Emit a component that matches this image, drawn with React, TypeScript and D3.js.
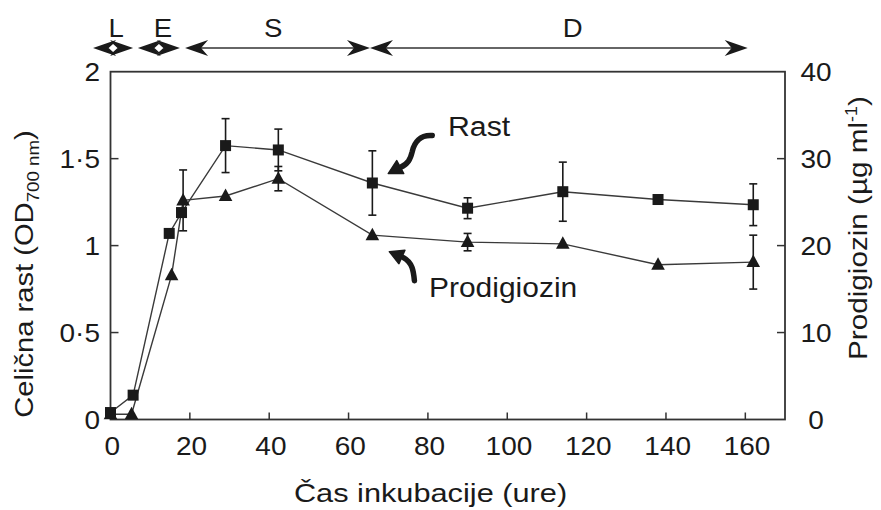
import React from "react";
import * as d3 from "d3";

// ---- data ----
const rastTime = [0, 5.7, 14.8, 17.9, 29, 42.3, 66, 90, 114, 138, 162];
const rastOD = [0.04, 0.14, 1.07, 1.19, 1.575, 1.55, 1.36, 1.215, 1.31, 1.265, 1.235];
const rastErr = [0, 0, 0, 0, 0.155, 0.12, 0.185, 0.06, 0.17, 0, 0.12];

const prodTime = [0, 5.3, 15.4, 18.3, 29, 42.3, 66, 90, 114, 138, 162];
const prodigiozin = [0.6, 0.6, 16.6, 25.2, 25.7, 27.7, 21.2, 20.4, 20.2, 17.8, 18.1];
const prodErr = [0, 0, 0, 3.5, 0, 1.4, 0, 1.0, 0, 0, 3.1];

const xTicks = [0, 20, 40, 60, 80, 100, 120, 140, 160];
const leftTicks = [0, 0.5, 1, 1.5, 2];
const leftTickLabels = ["0", "0·5", "1", "1·5", "2"];
const rightTicks = [0, 10, 20, 30, 40];

const phaseNames = ["L", "E", "S", "D"];
const phaseStart = [-4.4, 6.9, 18.8, 65.4];
const phaseEnd = [5.7, 17.5, 65.4, 160.6];
const phaseLabelAt = [1.4, 13.2, 41, 116.5];

const FONT = "'Liberation Sans', Arial, Helvetica, sans-serif";
const INK = "#1a1a1a";
const AX = "#333";

function ST({ x, y, rot = 0, sx = 1.1, size = 26, anchor = "middle", children }: any) {
  return (
    <g transform={`translate(${x},${y}) rotate(${rot}) scale(${sx},1)`}>
      <text textAnchor={anchor} fontSize={size} fontFamily={FONT} fill={INK}>
        {children}
      </text>
    </g>
  );
}

function head(tx: number, y: number, dir: number) {
  return `M${tx},${y} L${tx - dir * 23},${y - 8} L${tx - dir * 16},${y} L${tx - dir * 23},${y + 8} Z`;
}

export default function App() {
  const x = d3.scaleLinear().domain([0, 170]).range([110.5, 785]);
  const yL = d3.scaleLinear().domain([0, 2]).range([419.5, 71.7]);
  const yR = d3.scaleLinear().domain([0, 40]).range([419.5, 71.7]);

  const rastPts: [number, number][] = rastTime.map((t, i) => [x(t), yL(rastOD[i])]);
  const prodPts: [number, number][] = prodTime.map((t, i) => [x(t), yR(prodigiozin[i])]);
  const line = d3.line();

  const left = x.range()[0];
  const right = x.range()[1];
  const top = yL.range()[1];
  const bottom = yL.range()[0];
  const phaseY = 48;

  // annotation anchors (data coords)
  const rT = [x(70), yL(1.42)];
  const pT = [x(70.3), yL(0.965)];

  return (
    <svg width={881} height={510} style={{ position: "absolute", left: 0, top: 0, background: "#fff" }}>
      <rect width={881} height={510} fill="#fff" />

      {/* phase arrows */}
      <g>
        {phaseNames.map((n, i) => {
          const a = x(phaseStart[i]);
          const b = x(phaseEnd[i]);
          const short = b - a < 60;
          return (
            <g key={n}>
              {!short && <line x1={a + 10} x2={b - 10} y1={phaseY} y2={phaseY} stroke={AX} strokeWidth={1.6} />}
              <path d={head(a, phaseY, -1)} fill={INK} />
              {i < 3 || true ? <path d={head(b, phaseY, 1)} fill={INK} /> : null}
              {short && (
                <path
                  d={`M${(a + b) / 2 - 5.5},${phaseY} L${(a + b) / 2},${phaseY - 5} L${(a + b) / 2 + 5.5},${phaseY} L${(a + b) / 2},${phaseY + 5} Z`}
                  fill="#fff"
                  stroke={INK}
                  strokeWidth={1.5}
                />
              )}
              <ST x={x(phaseLabelAt[i])} y={37} sx={1.06} size={26}>{n}</ST>
            </g>
          );
        })}
      </g>

      {/* frame */}
      <rect x={left} y={top} width={right - left} height={bottom - top} fill="none" stroke={AX} strokeWidth={1.8} />

      {/* x ticks */}
      {xTicks.map((t) => (
        <g key={"x" + t}>
          {t > 0 && <line x1={x(t)} x2={x(t)} y1={bottom} y2={bottom - 7} stroke={AX} strokeWidth={1.5} />}
          <ST x={x(t) + 1.7} y={455} sx={1.12} size={25}>{String(t)}</ST>
        </g>
      ))}

      {/* left ticks */}
      {leftTicks.map((t, i) => (
        <g key={"l" + t}>
          {t > 0 && t < 2 && <line x1={left} x2={left + 8} y1={yL(t)} y2={yL(t)} stroke={AX} strokeWidth={1.5} />}
          <ST x={100} y={yL(t) + 9} sx={1.12} size={25} anchor="end">{leftTickLabels[i]}</ST>
        </g>
      ))}

      {/* right ticks */}
      {rightTicks.map((t) => (
        <g key={"r" + t}>
          {t > 0 && t < 40 && <line x1={right} x2={right - 8} y1={yR(t)} y2={yR(t)} stroke={AX} strokeWidth={1.5} />}
          <ST x={816} y={yR(t) + 9} sx={1.12} size={25}>{String(t)}</ST>
        </g>
      ))}

      {/* axis titles */}
      <ST x={430.5} y={502} sx={1.16} size={26.5}>Čas inkubacije (ure)</ST>
      <g transform={`translate(33,274) rotate(-90) scale(1.1,1)`}>
        <text textAnchor="middle" fontSize={26.5} fontFamily={FONT} fill={INK}>
          Celična rast (OD<tspan fontSize={17} dy={6}>700 nm</tspan><tspan dy={-6}>)</tspan>
        </text>
      </g>
      <g transform={`translate(867,228) rotate(-90) scale(1.12,1)`}>
        <text textAnchor="middle" fontSize={26.5} fontFamily={FONT} fill={INK}>
          Prodigiozin (µg ml<tspan fontSize={16} dy={-10}>-1</tspan><tspan dy={10}>)</tspan>
        </text>
      </g>

      {/* data lines */}
      <path d={line(rastPts) || ""} fill="none" stroke="#3a3a3a" strokeWidth={1.4} />
      <path d={line(prodPts) || ""} fill="none" stroke="#3a3a3a" strokeWidth={1.4} />

      {/* error bars */}
      {rastTime.map((t, i) =>
        rastErr[i] > 0 ? (
          <g key={"re" + i} stroke={INK} strokeWidth={1.6}>
            <line x1={x(t)} x2={x(t)} y1={yL(rastOD[i] - rastErr[i])} y2={yL(rastOD[i] + rastErr[i])} />
            <line x1={x(t) - 4} x2={x(t) + 4} y1={yL(rastOD[i] - rastErr[i])} y2={yL(rastOD[i] - rastErr[i])} />
            <line x1={x(t) - 4} x2={x(t) + 4} y1={yL(rastOD[i] + rastErr[i])} y2={yL(rastOD[i] + rastErr[i])} />
          </g>
        ) : null
      )}
      {prodTime.map((t, i) =>
        prodErr[i] > 0 ? (
          <g key={"pe" + i} stroke={INK} strokeWidth={1.6}>
            <line x1={x(t)} x2={x(t)} y1={yR(prodigiozin[i] - prodErr[i])} y2={yR(prodigiozin[i] + prodErr[i])} />
            <line x1={x(t) - 4} x2={x(t) + 4} y1={yR(prodigiozin[i] - prodErr[i])} y2={yR(prodigiozin[i] - prodErr[i])} />
            <line x1={x(t) - 4} x2={x(t) + 4} y1={yR(prodigiozin[i] + prodErr[i])} y2={yR(prodigiozin[i] + prodErr[i])} />
          </g>
        ) : null
      )}

      {/* markers */}
      {prodPts.map(([px, py], i) => (
        <path key={"pt" + i} d={`M${px},${py - 7.5} L${px + 6.8},${py + 5} L${px - 6.8},${py + 5} Z`} fill={INK} />
      ))}
      {rastPts.map(([px, py], i) => (
        <rect key={"rs" + i} x={px - 5.5} y={py - 5.5} width={11} height={11} fill={INK} />
      ))}

      {/* annotations */}
      <ST x={448} y={136} sx={1.1} size={27.5} anchor="start">Rast</ST>
      <ST x={429} y={297} sx={1.09} size={27.5} anchor="start">Prodigiozin</ST>

      <g fill={INK} stroke={INK} strokeLinecap="round" strokeLinejoin="round">
        <path
          d={`M${rT[0] + 44},${rT[1] - 37} C${rT[0] + 32},${rT[1] - 38} ${rT[0] + 26},${rT[1] - 30} ${rT[0] + 24},${rT[1] - 21} C${rT[0] + 22},${rT[1] - 13} ${rT[0] + 20},${rT[1] - 9} ${rT[0] + 12},${rT[1] - 5}`}
          fill="none"
          strokeWidth={5.5}
        />
        <path
          d={`M${rT[0]},${rT[1] + 1} L${rT[0] + 8.5},${rT[1] - 12} L${rT[0] + 15.5},${rT[1] + 1} Z`}
          strokeWidth={1.5}
        />
        <path
          d={`M${pT[0] + 25},${pT[1] + 29} C${pT[0] + 24},${pT[1] + 19} ${pT[0] + 23},${pT[1] + 11} ${pT[0] + 14},${pT[1] + 6}`}
          fill="none"
          strokeWidth={5.5}
        />
        <path
          d={`M${pT[0]},${pT[1]} L${pT[0] + 15.5},${pT[1] - 1.5} L${pT[0] + 9.5},${pT[1] + 12} Z`}
          strokeWidth={1.5}
        />
      </g>
    </svg>
  );
}
